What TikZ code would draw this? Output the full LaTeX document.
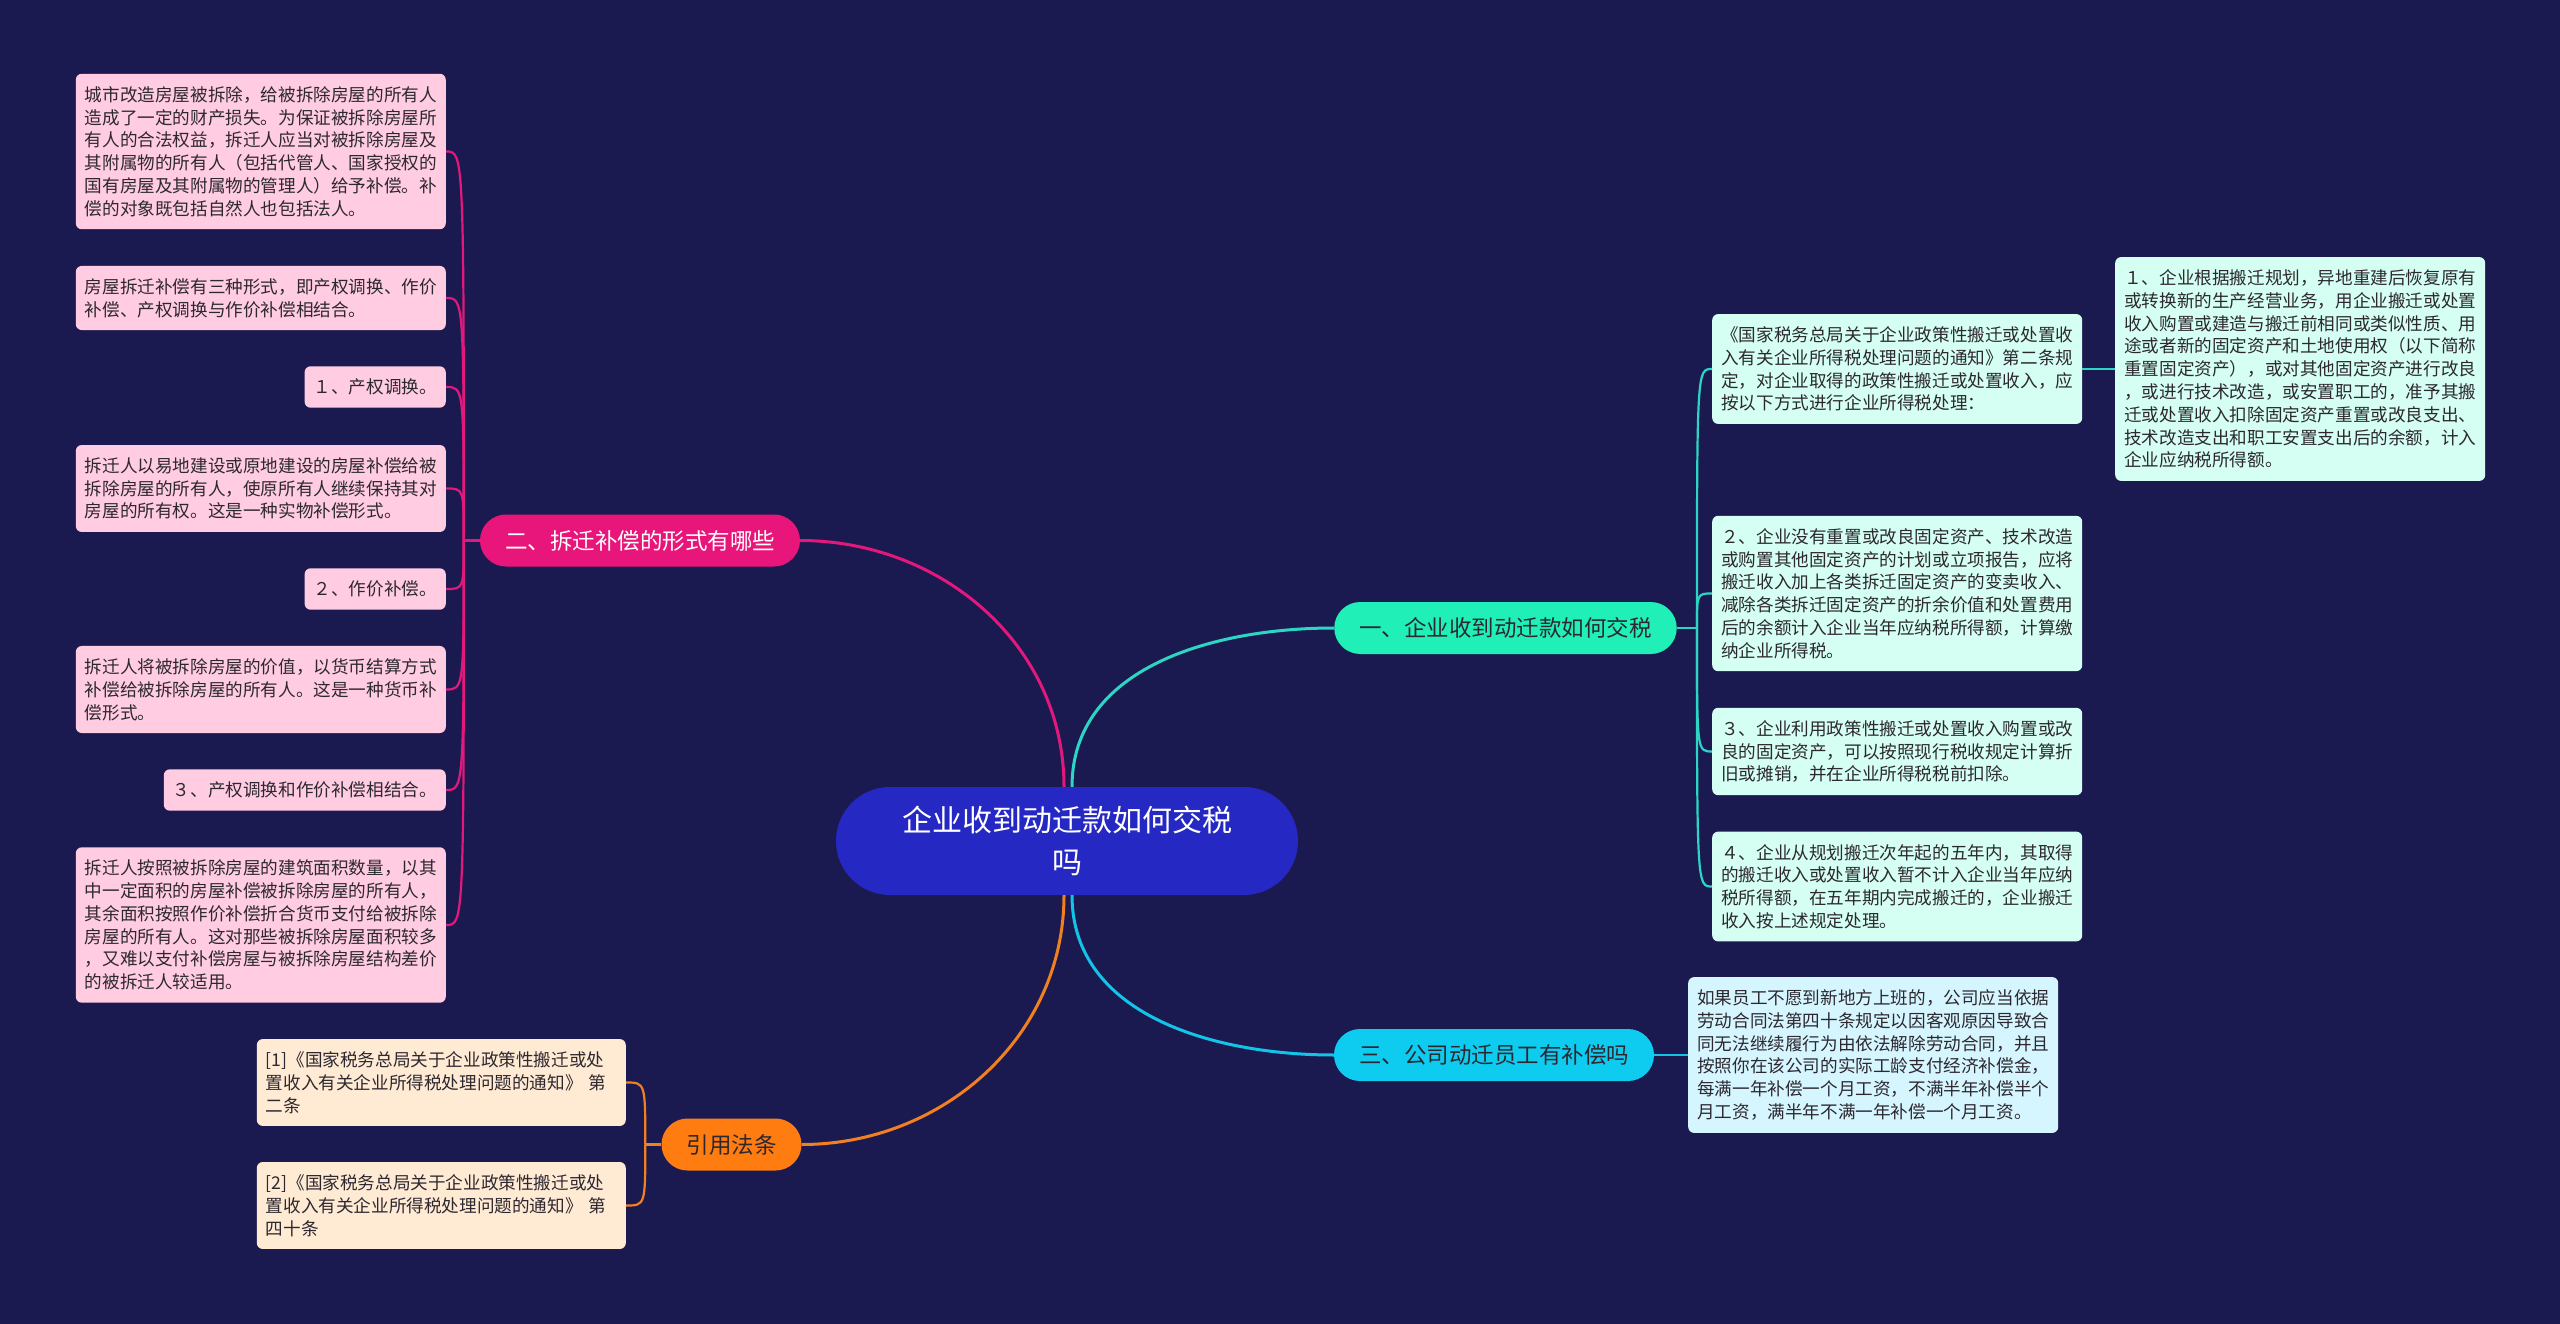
\documentclass[tikz,border=0pt]{standalone}
\usepackage{fontspec}
\setmainfont{Noto Sans CJK SC}
\usepackage{xcolor}
\usepackage{tikz}
\usetikzlibrary{calc}

\definecolor{bgnavy}{RGB}{27,26,80}
\definecolor{rootblue}{RGB}{38,40,196}
\definecolor{pinkbr}{RGB}{232,22,122}
\definecolor{pinkleaf}{RGB}{255,204,226}
\definecolor{pinkln}{RGB}{226,24,124}
\definecolor{mintbr}{RGB}{32,240,184}
\definecolor{mintleaf}{RGB}{212,255,242}
\definecolor{mintln}{RGB}{45,214,196}
\definecolor{cyanbr}{RGB}{14,204,240}
\definecolor{cyanleaf}{RGB}{214,246,255}
\definecolor{cyanln}{RGB}{20,196,232}
\definecolor{orgbr}{RGB}{255,124,16}
\definecolor{orgleaf}{RGB}{255,234,212}
\definecolor{orgln}{RGB}{240,128,32}
\definecolor{darktext}{RGB}{45,40,48}

\begin{document}
\begin{tikzpicture}[x=1pt,y=-1pt,
    leaf/.style={rounded corners=6pt,inner xsep=9pt,inner ysep=12.5pt,align=left,
      text=darktext,font=\fontsize{17.6}{22.8}\selectfont},
    branch/.style={rounded corners=26pt,minimum height=52pt,inner xsep=25pt,
      font=\fontsize{22.5}{26}\selectfont},
    twig/.style={line width=2.2pt},
    limb/.style={line width=3pt}]
  \fill[bgnavy] (0,0) rectangle (2560,1324);
  \useasboundingbox (0,0) rectangle (2560,1324);

  % centre
  \node[fill=rootblue,text=white,rounded corners=54pt,minimum width=462pt,minimum height=108pt,
    align=center,font=\fontsize{30}{42}\selectfont] (root) at (1067,841)
    {企业收到动迁款如何交税\\吗};

  % branches
  \node[branch,fill=mintbr,text=darktext] (b1) at (1505.5,628) {一、企业收到动迁款如何交税};
  \node[branch,fill=pinkbr,text=white] (b2) at (640,540.5) {二、拆迁补偿的形式有哪些};
  \node[branch,fill=cyanbr,text=darktext] (b3) at (1494,1055) {三、公司动迁员工有补偿吗};
  \node[branch,fill=orgbr,text=darktext] (b4) at (731.5,1144.5) {引用法条};

  % left leaves
  \node[leaf,fill=pinkleaf,anchor=east] (a1) at (446,151.5) {城市改造房屋被拆除，给被拆除房屋的所有人\\造成了一定的财产损失。为保证被拆除房屋所\\有人的合法权益，拆迁人应当对被拆除房屋及\\其附属物的所有人（包括代管人、国家授权的\\国有房屋及其附属物的管理人）给予补偿。补\\偿的对象既包括自然人也包括法人。};
  \node[leaf,fill=pinkleaf,anchor=east] (a2) at (446,298) {房屋拆迁补偿有三种形式，即产权调换、作价\\补偿、产权调换与作价补偿相结合。};
  \node[leaf,fill=pinkleaf,anchor=east] (a3) at (446,387) {１、产权调换。};
  \node[leaf,fill=pinkleaf,anchor=east] (a4) at (446,488.5) {拆迁人以易地建设或原地建设的房屋补偿给被\\拆除房屋的所有人，使原所有人继续保持其对\\房屋的所有权。这是一种实物补偿形式。};
  \node[leaf,fill=pinkleaf,anchor=east] (a5) at (446,589) {２、作价补偿。};
  \node[leaf,fill=pinkleaf,anchor=east] (a6) at (446,689.5) {拆迁人将被拆除房屋的价值，以货币结算方式\\补偿给被拆除房屋的所有人。这是一种货币补\\偿形式。};
  \node[leaf,fill=pinkleaf,anchor=east] (a7) at (446,790) {３、产权调换和作价补偿相结合。};
  \node[leaf,fill=pinkleaf,anchor=east] (a8) at (446,925) {拆迁人按照被拆除房屋的建筑面积数量，以其\\中一定面积的房屋补偿被拆除房屋的所有人，\\其余面积按照作价补偿折合货币支付给被拆除\\房屋的所有人。这对那些被拆除房屋面积较多\\，又难以支付补偿房屋与被拆除房屋结构差价\\的被拆迁人较适用。};

  \node[leaf,fill=orgleaf,anchor=east,text width=351pt] (r1) at (626,1082.5) {[1]《国家税务总局关于企业政策性搬迁或处\\置收入有关企业所得税处理问题的通知》 第\\二条};
  \node[leaf,fill=orgleaf,anchor=east,text width=351pt] (r2) at (626,1205.5) {[2]《国家税务总局关于企业政策性搬迁或处\\置收入有关企业所得税处理问题的通知》 第\\四十条};

  % right leaves
  \node[leaf,fill=mintleaf,anchor=west] (g0) at (1712,369) {《国家税务总局关于企业政策性搬迁或处置收\\入有关企业所得税处理问题的通知》第二条规\\定，对企业取得的政策性搬迁或处置收入，应\\按以下方式进行企业所得税处理：};
  \node[leaf,fill=mintleaf,anchor=west] (g1) at (2115,369) {１、企业根据搬迁规划，异地重建后恢复原有\\或转换新的生产经营业务，用企业搬迁或处置\\收入购置或建造与搬迁前相同或类似性质、用\\途或者新的固定资产和土地使用权（以下简称\\重置固定资产），或对其他固定资产进行改良\\，或进行技术改造，或安置职工的，准予其搬\\迁或处置收入扣除固定资产重置或改良支出、\\技术改造支出和职工安置支出后的余额，计入\\企业应纳税所得额。};
  \node[leaf,fill=mintleaf,anchor=west] (g2) at (1712,593.5) {２、企业没有重置或改良固定资产、技术改造\\或购置其他固定资产的计划或立项报告，应将\\搬迁收入加上各类拆迁固定资产的变卖收入、\\减除各类拆迁固定资产的折余价值和处置费用\\后的余额计入企业当年应纳税所得额，计算缴\\纳企业所得税。};
  \node[leaf,fill=mintleaf,anchor=west] (g3) at (1712,751.5) {３、企业利用政策性搬迁或处置收入购置或改\\良的固定资产，可以按照现行税收规定计算折\\旧或摊销，并在企业所得税税前扣除。};
  \node[leaf,fill=mintleaf,anchor=west] (g4) at (1712,886.5) {４、企业从规划搬迁次年起的五年内，其取得\\的搬迁收入或处置收入暂不计入企业当年应纳\\税所得额，在五年期内完成搬迁的，企业搬迁\\收入按上述规定处理。};
  \node[leaf,fill=cyanleaf,anchor=west] (c1) at (1688,1055) {如果员工不愿到新地方上班的，公司应当依据\\劳动合同法第四十条规定以因客观原因导致合\\同无法继续履行为由依法解除劳动合同，并且\\按照你在该公司的实际工龄支付经济补偿金，\\每满一年补偿一个月工资，不满半年补偿半个\\月工资，满半年不满一年补偿一个月工资。};

  % centre to branches
  \draw[limb,pinkln] ([xshift=-3pt]root.north) to[out=90,in=0] (b2.east);
  \draw[limb,mintln] ([xshift=5pt]root.north) to[out=90,in=180] (b1.west);
  \draw[limb,cyanln] ([xshift=5pt]root.south) to[out=-90,in=180] (b3.west);
  \draw[limb,orgln] ([xshift=-3pt]root.south) to[out=-90,in=0] (b4.east);

  % branches to leaves
  \coordinate (t2) at ([xshift=-16pt]b2.west);
  \draw[twig,pinkln] (b2.west) -- (t2);
  \foreach \n in {a1,a2,a3,a4,a5,a6,a7,a8}
    \draw[twig,pinkln] (t2) .. controls (t2 |- \n.east) .. (\n.east);

  \coordinate (t1) at ([xshift=20pt]b1.east);
  \draw[twig,mintln] (b1.east) -- (t1);
  \foreach \n in {g0,g2,g3,g4}
    \draw[twig,mintln] (t1) .. controls (t1 |- \n.west) .. (\n.west);
  \draw[twig,mintln] (g0.east) -- (g1.west);

  \draw[twig,cyanln] (b3.east) -- (c1.west);

  \coordinate (t4) at ([xshift=-16pt]b4.west);
  \draw[twig,orgln] (b4.west) -- (t4);
  \foreach \n in {r1,r2}
    \draw[twig,orgln] (t4) .. controls (t4 |- \n.east) .. (\n.east);
\end{tikzpicture}
\end{document}
